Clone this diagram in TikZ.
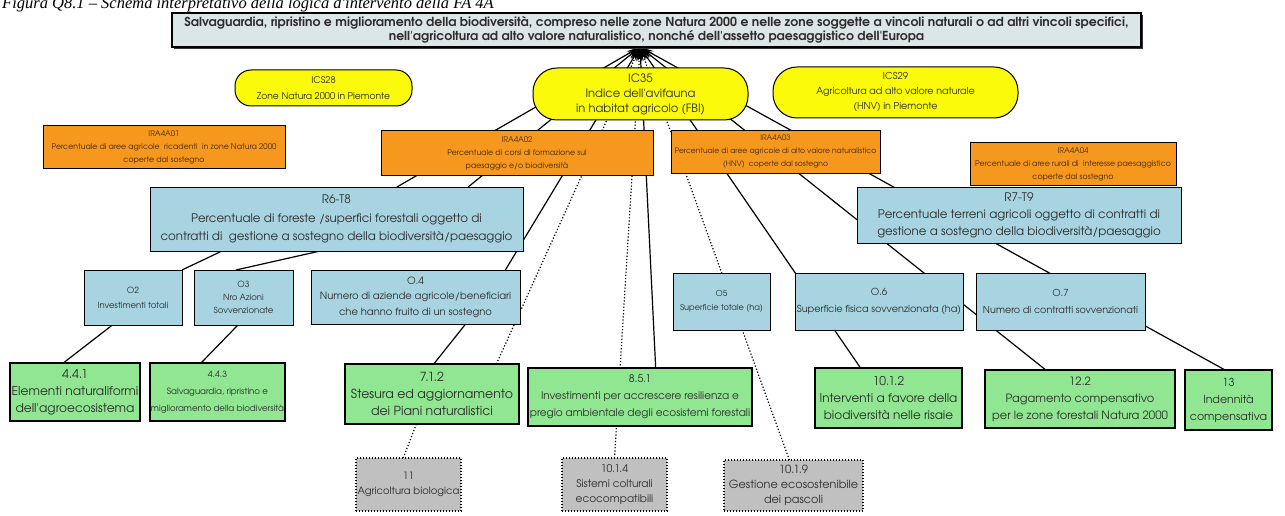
\documentclass[tikz,border=0pt]{standalone}
\usepackage{fontspec}
\usetikzlibrary{calc,arrows.meta}
\newfontfamily\boxfont{texgyreadventor}[Extension=.otf,UprightFont=*-regular,BoldFont=*-bold]
\newfontfamily\capfont{Liberation Serif}
\newcommand{\fsz}[2]{\fontsize{#1}{#2}\selectfont}
\pgfdeclarelayer{paper}
\pgfdeclarelayer{links}
\pgfsetlayers{paper,links,main}
\definecolor{txt}{RGB}{45,45,45}
\definecolor{iratxt}{RGB}{70,45,15}
\definecolor{ttlfill}{RGB}{221,230,230}
\definecolor{ovalfill}{RGB}{250,250,10}
\definecolor{irafill}{RGB}{247,152,30}
\definecolor{resfill}{RGB}{168,212,226}
\definecolor{misfill}{RGB}{145,230,145}
\definecolor{altfill}{RGB}{192,192,192}
\tikzset{
  base/.style={draw=black, line width=1pt, inner sep=1pt, outer sep=0pt, align=center, text=txt},
  ttl/.style={base, fill=ttlfill, line width=1.5pt, font=\boxfont\bfseries\fsz{12.4}{13.5}},
  oval/.style={base, fill=ovalfill, font=\boxfont\fsz{9.2}{15.5}},
  ira/.style={base, fill=irafill, text=iratxt, font=\boxfont\fsz{7.8}{13}},
  res/.style={base, fill=resfill, font=\boxfont\fsz{11.8}{18.5}},
  outp/.style={base, fill=resfill, font=\boxfont\fsz{8.5}{15}},
  mis/.style={base, fill=misfill, line width=1.4pt, font=\boxfont\fsz{12}{17}},
  alt/.style={base, fill=altfill, dotted, line width=1.3pt, font=\boxfont\fsz{10.5}{15}},
  seg/.style={line width=1.2pt},
  dseg/.style={seg, dotted},
  link/.style={seg, -{Stealth[length=14pt,width=6pt]}},
  dlink/.style={link, dotted},
  sz/.style 2 args={minimum width=#1pt, minimum height=#2pt},
}
% point at fraction #2 along the top (n) or bottom (s) side of node #1
\newcommand{\tp}[2]{($(#1.north west)!#2!(#1.north east)$)}
\newcommand{\bt}[2]{($(#1.south west)!#2!(#1.south east)$)}
\begin{document}
\begin{tikzpicture}[x=1pt,y=-1pt]
\useasboundingbox (0,0) rectangle (1285,516);
\begin{pgfonlayer}{paper}
\fill[white] (0,0) rectangle (1285,516);
\end{pgfonlayer}

% caption, partly cut by the page edge
\node[anchor=base west, inner sep=0pt, font=\capfont\itshape\fsz{16.5}{20}] (cap) at (2,9)
  {Figura Q8.1 – Schema interpretativo della logica d'intervento della FA 4A};

% objective of the focus area
\fill[black!80] (174,15) rectangle (1143,49);
\node[ttl, sz={969}{34}] (title) at (656.5,30) {Salvaguardia, ripristino e miglioramento della biodiversità, compreso nelle zone Natura 2000 e nelle zone soggette a vincoli naturali o ad altri vincoli specifici,\\nell'agricoltura ad alto valore naturalistico, nonché dell'assetto paesaggistico dell'Europa};
\coordinate (hub) at (640,47);

% context indicators
\node[oval, sz={177}{36}, rounded corners=16pt] (ics28) at (323.5,88) {ICS28\\Zone Natura 2000 in Piemonte};
\node[oval, sz={215}{52}, rounded corners=24pt, font=\boxfont\fsz{11.5}{15}] (ic35) at (640.5,94) {IC35\\Indice dell'avifauna\\in habitat agricolo (FBI)};
\node[oval, sz={245}{51}, rounded corners=24pt, font=\boxfont\fsz{9.5}{15}] (ics29) at (895.5,92.5) {ICS29\\Agricoltura ad alto valore naturale\\(HNV) in Piemonte};

% specific indicators
\node[ira, sz={242}{42}] (ira1) at (164,147) {IRA4A01\\Percentuale di aree agricole\ \ ricadenti\ \ in zone Natura 2000\\coperte dal sostegno};
\node[ira, sz={272}{44}] (ira2) at (517,153) {IRA4A02\\Percentuale di corsi di formazione sul\\paesaggio e/o biodiversità};
\node[ira, sz={209}{42}, font=\boxfont\fsz{7.6}{13}] (ira3) at (775.5,152) {IRA4A03\\Percentuale di aree agricole di alto valore naturalistico\\(HNV)\ \ coperte dal sostegno};
\node[ira, sz={206}{42}] (ira4) at (1073,164) {IRA4A04\\Percentuale di aree rurali di\ \ interesse paesaggistico\\coperte dal sostegno};

% results
\node[res, sz={373}{64}] (r6) at (336.5,219) {R6-T8\\Percentuale di foreste /superfici forestali oggetto di\\contratti di\ \ gestione a sostegno della biodiversità/paesaggio};
\node[res, sz={324}{56}, font=\boxfont\fsz{11.8}{17}] (r7) at (1019,215) {R7-T9\\Percentuale terreni agricoli oggetto di contratti di\\gestione a sostegno della biodiversità/paesaggio};

% outputs
\node[outp, sz={98}{55}] (o2) at (133,297.5) {O2\\Investimenti totali};
\node[outp, sz={99}{55}, font=\boxfont\fsz{8.5}{13}] (o3) at (243.5,297.5) {O3\\Nro Azioni\\Sovvenzionate};
\node[outp, sz={209}{54}, font=\boxfont\fsz{10}{15.5}] (o4) at (415.5,297) {O.4\\Numero di aziende agricole/beneficiari\\che hanno fruito di un sostegno};
\node[outp, sz={97}{57}, font=\boxfont\fsz{8.2}{14}] (o5) at (721.5,301.5) {O5\\Superficie totale (ha)};
\node[outp, sz={168}{57}, font=\boxfont\fsz{9.7}{17}] (o6) at (879,301.5) {O.6\\Superficie fisica sovvenzionata (ha)};
\node[outp, sz={169}{57}, font=\boxfont\fsz{9.6}{17}] (o7) at (1060.5,301.5) {O.7\\Numero di contratti sovvenzionati};

% measures
\node[mis, sz={130}{58}, font=\boxfont\fsz{12.2}{17}] (m441) at (75,392) {4.4.1\\Elementi naturaliformi\\dell'agroecosistema};
\node[mis, sz={135}{58}, font=\boxfont\fsz{8.6}{17}] (m443) at (217.5,392) {4.4.3\\Salvaguardia, ripristino e\\miglioramento della biodiversità};
\node[mis, sz={174}{60}, font=\boxfont\fsz{12.5}{17}] (m712) at (432,394) {7.1.2\\Stesura ed aggiornamento\\dei Piani naturalistici};
\node[mis, sz={224}{58}, font=\boxfont\fsz{10.5}{17}] (m851) at (640,397) {8.5.1\\Investimenti per accrescere resilienza e\\pregio ambientale degli ecosistemi forestali};
\node[mis, sz={147}{60}] (m1012) at (888.5,398) {10.1.2\\Interventi a favore della\\biodiversità nelle risaie};
\node[mis, sz={190}{58}, font=\boxfont\fsz{11.4}{17}] (m122) at (1080,399) {12.2\\Pagamento compensativo\\per le zone forestali Natura 2000};
\node[mis, sz={87}{60}, font=\boxfont\fsz{11}{17}] (m13) at (1228.5,400) {13\\Indennità\\compensativa};

% measures with an indirect effect
\node[alt, sz={105}{53}, font=\boxfont\fsz{10}{15}] (g11) at (408.5,484.5) {11\\Agricoltura biologica};
\node[alt, sz={105}{53}] (g1014) at (614.5,484.5) {10.1.4\\Sistemi colturali\\ecocompatibili};
\node[alt, sz={139}{51}, font=\boxfont\fsz{11.2}{15}] (g1019) at (793.5,485.5) {10.1.9\\Gestione ecosostenibile\\dei pascoli};

% connectors, behind the boxes
\begin{pgfonlayer}{links}
% forest branch: measures -> outputs -> result -> objective
\draw[seg] \tp{m441}{0.41} -- \bt{o2}{0.29};
\draw[seg] (o2.north east) -- \bt{r6}{0.193};
\draw[seg] \tp{m443}{0.378} -- \bt{o3}{0.444};
\draw[seg] \tp{o3}{0.424} -- \bt{r6}{0.456};
\draw[link] \tp{r6}{0.662} -- (hub);
\draw[link] \tp{r6}{0.853} -- (hub);
\draw[seg] \tp{m712}{0.51} -- \bt{o4}{0.74};
\draw[link] \tp{o4}{0.93} -- (hub);
\draw[dseg] \tp{g11}{0.45} -- \bt{m712}{0.41};
\draw[dlink] \tp{m712}{0.87} -- (hub);
% central and agricultural branch: straight to the objective
\draw[link] \tp{m851}{0.57} -- (hub);
\draw[link] \tp{m1012}{0.31} -- (hub);
\draw[link] \tp{m122}{0.32} -- (hub);
\draw[link] \tp{m13}{0.46} -- (hub);
\draw[dlink] (g1014.north) -- (hub);
\draw[dlink] \tp{g1019}{0.47} -- (hub);
\end{pgfonlayer}
\end{tikzpicture}
\end{document}
